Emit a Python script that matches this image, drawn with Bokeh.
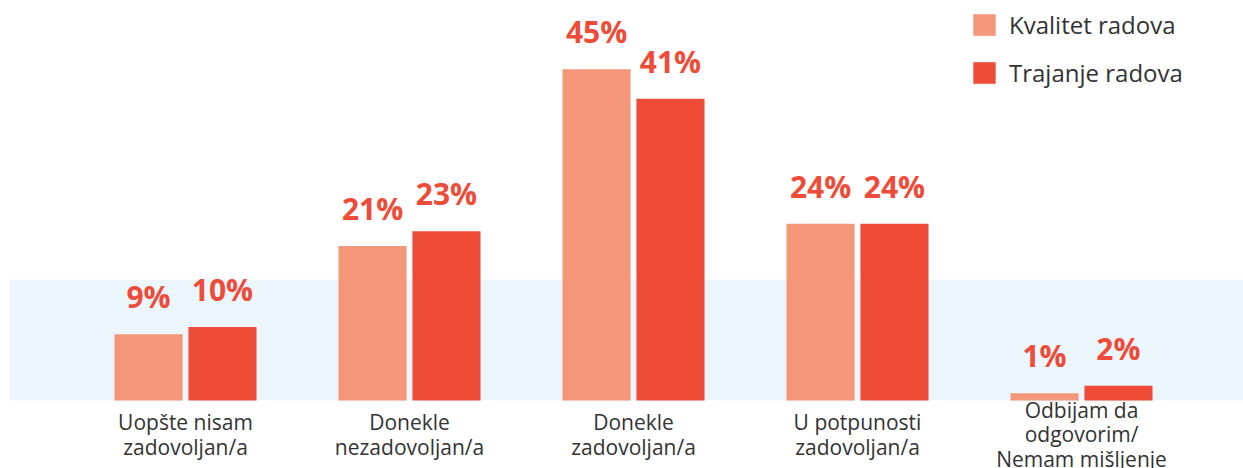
from bokeh.plotting import figure
from bokeh.models import ColumnDataSource, Range1d, BoxAnnotation, Legend, LegendItem
from bokeh.transform import dodge
from bokeh.core.properties import value
from bokeh.embed import file_html
from bokeh.resources import INLINE

categories = ["Uopšte nisam\nzadovoljan/a", "Donekle\nnezadovoljan/a", "Donekle\nzadovoljan/a",
              "U potpunosti\nzadovoljan/a", "Odbijam da\nodgovorim/\nNemam mišljenje"]
kvalitet = [9, 21, 45, 24, 1]
trajanje = [10, 23, 41, 24, 2]
series_names = ["Kvalitet radova", "Trajanje radova"]
band_top = 16.4

C_LIGHT = "#F4967A"
C_DARK = "#EE4B39"
C_BAND = "#EBF7FD"
C_TEXT = "#333333"

xs = list(range(len(categories)))
label_gap = 5.1
src = ColumnDataSource(dict(
    x=xs, cat=categories, k=kvalitet, t=trajanje,
    kl=[f"{v}%" for v in kvalitet], tl=[f"{v}%" for v in trajanje],
    ky=[v + label_gap for v in kvalitet], ty=[v + label_gap for v in trajanje],
    cy=[-4.62] * len(categories),
))

p = figure(width=1243, height=468, x_range=Range1d(-0.8259, 4.7232), y_range=Range1d(-9.24, 54.35),
           output_backend="svg", toolbar_location=None, x_axis_type=None, y_axis_type=None,
           min_border=0)
p.outline_line_color = None
p.grid.visible = False
p.background_fill_color = "white"

p.add_layout(BoxAnnotation(bottom=0, top=band_top, left=-0.786, fill_color=C_BAND, fill_alpha=1.0,
                           line_color=None, level="underlay"))

off = 0.165
bw = 0.304
r1 = p.vbar(x=dodge("x", -off), top="k", bottom=0, width=bw, source=src,
            fill_color=C_LIGHT, line_color=None)
r2 = p.vbar(x=dodge("x", off), top="t", bottom=0, width=bw, source=src,
            fill_color=C_DARK, line_color=None)

lab_font = value("Open Sans")
p.text(x=dodge("x", -off), y="ky", text="kl", source=src, text_align="center",
       text_baseline="alphabetic", text_font=lab_font, text_font_style="bold",
       text_font_size="30px", text_color=C_DARK)
p.text(x=dodge("x", off), y="ty", text="tl", source=src, text_align="center",
       text_baseline="alphabetic", text_font=lab_font, text_font_style="bold",
       text_font_size="30px", text_color=C_DARK)

p.text(x="x", y="cy", text="cat", source=src, text_align="center", text_baseline="middle",
       text_font=lab_font, text_font_size="21px", text_color=C_TEXT, text_line_height=0.88)

legend = Legend(items=[LegendItem(label=series_names[0], renderers=[r1]),
                       LegendItem(label=series_names[1], renderers=[r2])],
                location=(970, 379), orientation="vertical")
legend.glyph_width = 28
legend.glyph_height = 27
legend.label_height = 27
legend.spacing = 15
legend.padding = 0
legend.margin = 0
legend.label_standoff = 11
legend.border_line_color = None
legend.background_fill_alpha = 0
legend.label_text_font = "Open Sans"
legend.label_text_font_size = "24px"
legend.label_text_color = C_TEXT
p.add_layout(legend, "center")

open("out.html", "w").write(file_html(p, INLINE))
